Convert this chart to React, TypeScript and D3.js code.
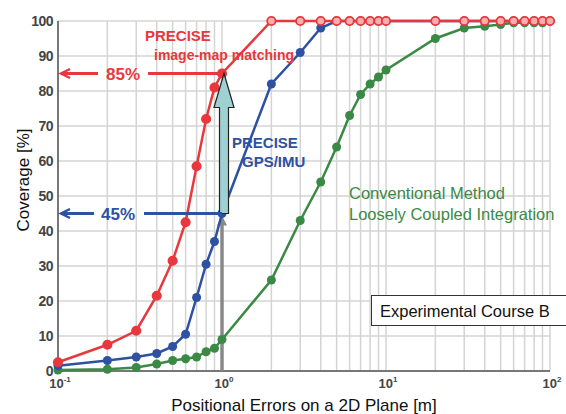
import React from "react";
import * as d3 from "d3";

const xs = [0.1, 0.2, 0.3, 0.4, 0.5, 0.6, 0.7, 0.8, 0.9, 1, 2, 3, 4, 5, 6, 7, 8, 9, 10, 20, 30, 40, 50, 60, 70, 80, 90, 100];
const redVals = [2.5, 7.5, 11.5, 21.5, 31.5, 42.5, 58.5, 72, 81, 85, 100, 100, 100, 100, 100, 100, 100, 100, 100, 100, 100, 100, 100, 100, 100, 100, 100, 100];
const blueVals = [1.5, 3, 4, 5, 7, 10.5, 21, 30.5, 37, 45, 82, 91, 98, 100, 100, 100, 100, 100, 100, 100, 100, 100, 100, 100, 100, 100, 100, 100];
const greenVals = [0.3, 0.5, 1, 2, 3, 3.5, 4, 5.5, 6.5, 9, 26, 43, 54, 64, 73, 79, 82, 84, 86, 95, 98, 98.5, 99, 99.5, 99.5, 99.5, 99.5, 100];
const yTicks = [0, 10, 20, 30, 40, 50, 60, 70, 80, 90, 100];
const xDecades = [-1, 0, 1, 2];

const W = 566, H = 414;
const x = d3.scaleLog().domain([0.1, 100]).range([58, 550]);
const y = d3.scaleLinear().domain([0, 100]).range([371, 21]);

const RED = "#e8383d";
const BLUE = "#2e51a2";
const GREEN = "#3a8a45";

export default function App() {
  const line = d3.line<number>().x((_, i) => x(xs[i])).y((v) => y(v));
  const minor: number[] = [];
  for (let d = -1; d < 2; d++) for (let m = 1; m <= 9; m++) minor.push(m * Math.pow(10, d));
  minor.push(100);
  const font = "Arial, 'Liberation Sans', sans-serif";
  const x1 = x(1);
  const y85 = y(85), y45 = y(45);
  return (
    <svg width={W} height={H} style={{ position: "absolute", left: 0, top: 0, background: "#fff" }}>
      {/* grid */}
      {minor.map((v, i) => (
        <line key={"vx" + i} x1={x(v)} x2={x(v)} y1={y(100)} y2={y(0)} stroke="#d4d4d4" strokeWidth={1.5} />
      ))}
      {yTicks.map((t) => (
        <line key={"hy" + t} x1={x(0.1)} x2={x(100)} y1={y(t)} y2={y(t)} stroke="#d4d4d4" strokeWidth={1.5} />
      ))}
      {/* axes */}
      <line x1={x(0.1)} x2={x(0.1)} y1={y(100)} y2={y(0)} stroke="#555" strokeWidth={1.5} />
      <line x1={x(0.1)} x2={x(100)} y1={y(0)} y2={y(0)} stroke="#555" strokeWidth={1.5} />
      {yTicks.map((t) => (
        <text key={"yl" + t} x={53} y={y(t) + 5} textAnchor="end" fontFamily={font} fontWeight="bold" fontSize={14} letterSpacing={-0.5} fill="#444">{t}</text>
      ))}
      {xDecades.map((d) => (
        <text key={"xl" + d} x={x(Math.pow(10, d)) + 2} y={388} textAnchor="middle" fontFamily={font} fontWeight="bold" fontSize={13} fill="#444">
          10<tspan dy={-6} fontSize={8}>{d}</tspan>
        </text>
      ))}
      <text x={304} y={411} textAnchor="middle" fontFamily={font} fontSize={17} fill="#111">Positional Errors on a 2D Plane [m]</text>
      <text transform="translate(29,180) rotate(-90)" textAnchor="middle" fontFamily={font} fontSize={17} fill="#111">Coverage [%]</text>

      {/* gray vertical line */}
      <line x1={x1} x2={x1} y1={y(0)} y2={y45 + 8} stroke="#888" strokeWidth={3.5} />
      <path d={`M${x1 - 5},${y45 + 12} L${x1},${y45 + 2} L${x1 + 5},${y45 + 12} Z`} fill="#888" />

      {/* series */}
      <path d={line(greenVals) || ""} fill="none" stroke={GREEN} strokeWidth={2.5} />
      {greenVals.map((v, i) => <circle key={"g" + i} cx={x(xs[i])} cy={y(v)} r={4.5} fill={GREEN} />)}
      <path d={line(blueVals) || ""} fill="none" stroke={BLUE} strokeWidth={2.5} />
      {blueVals.map((v, i) => <circle key={"b" + i} cx={x(xs[i])} cy={y(v)} r={4.5} fill={BLUE} />)}
      <path d={line(redVals) || ""} fill="none" stroke={RED} strokeWidth={2.5} />
      {redVals.map((v, i) => (
        <circle key={"r" + i} cx={x(xs[i])} cy={y(v)} r={4.2} fill={i >= 10 ? "#f4b0b0" : RED} stroke={RED} strokeWidth={1.8} />
      ))}

      {/* teal arrow */}
      <path
        d={`M${x1 - 4.5},${y45} L${x1 - 4.5},${y85 + 34} L${x1 - 10},${y85 + 34} L${x1},${y85} L${x1 + 10},${y85 + 34} L${x1 + 4.5},${y85 + 34} L${x1 + 4.5},${y45} Z`}
        transform="translate(2,0)"
        fill="#9fd0d2" stroke="#222" strokeWidth={1.2} />

      {/* 85% arrow */}
      <line x1={61} x2={98} y1={y85} y2={y85} stroke={RED} strokeWidth={3} />
      <path d={`M70,${y85 - 4.5} L61,${y85} L70,${y85 + 4.5}`} fill="none" stroke={RED} strokeWidth={2.5} />
      <line x1={148} x2={x1} y1={y85} y2={y85} stroke={RED} strokeWidth={3} />
      <text x={123} y={y85 + 6} textAnchor="middle" fontFamily={font} fontWeight="bold" fontSize={17} fill={RED}>85%</text>
      {/* 45% arrow */}
      <line x1={61} x2={94} y1={y45} y2={y45} stroke={BLUE} strokeWidth={3} />
      <path d={`M70,${y45 - 4.5} L61,${y45} L70,${y45 + 4.5}`} fill="none" stroke={BLUE} strokeWidth={2.5} />
      <line x1={144} x2={x1} y1={y45} y2={y45} stroke={BLUE} strokeWidth={3} />
      <text x={118} y={y45 + 6} textAnchor="middle" fontFamily={font} fontWeight="bold" fontSize={17} fill={BLUE}>45%</text>

      {/* labels */}
      <text x={145} y={41} fontFamily={font} fontWeight="bold" fontSize={15} fill={RED}>PRECISE</text>
      <text x={154} y={60} fontFamily={font} fontWeight="bold" fontSize={14} fill={RED}>image-map matching</text>
      <text x={232} y={148} fontFamily={font} fontWeight="bold" fontSize={15} fill={BLUE}>PRECISE</text>
      <text x={242} y={167} fontFamily={font} fontWeight="bold" fontSize={15} fill={BLUE}>GPS/IMU</text>
      <text x={349} y={199} fontFamily={font} fontSize={16.5} fill={GREEN}>Conventional Method</text>
      <text x={349} y={220} fontFamily={font} fontSize={16.5} fill={GREEN}>Loosely Coupled Integration</text>

      {/* box */}
      <rect x={371.5} y={295.5} width={200} height={30} fill="#fff" stroke="#333" strokeWidth={1} />
      <text x={380} y={317} fontFamily={font} fontSize={16.5} fill="#111">Experimental Course B</text>
    </svg>
  );
}
